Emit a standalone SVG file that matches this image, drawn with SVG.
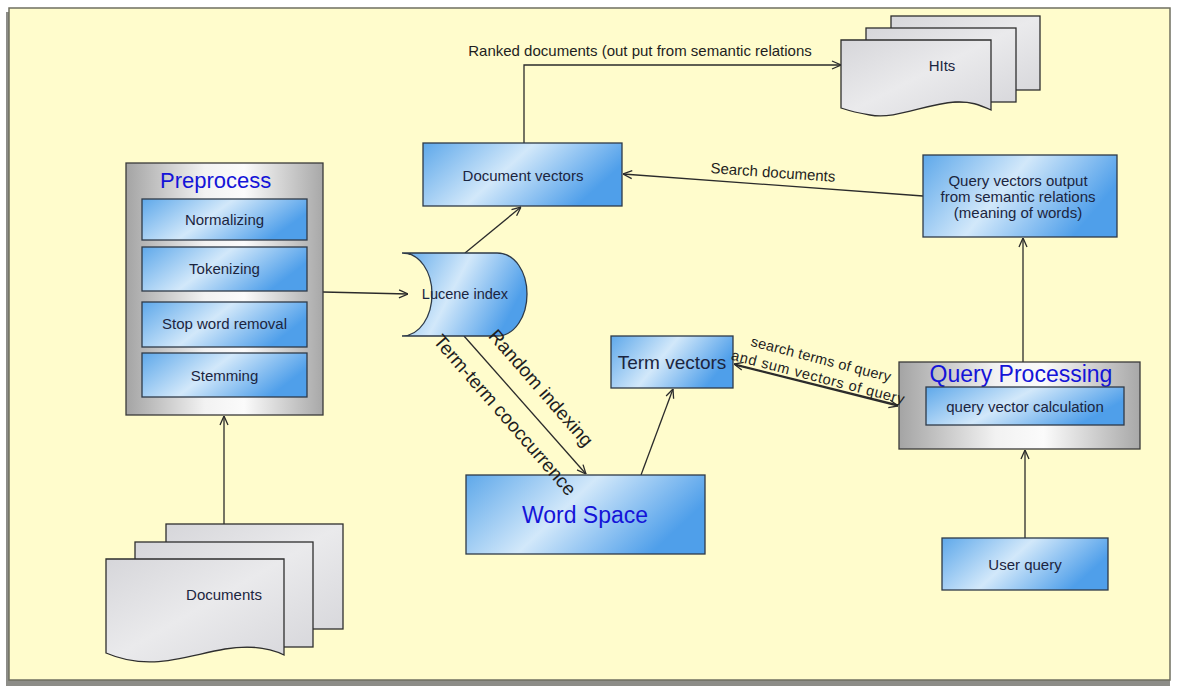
<svg xmlns="http://www.w3.org/2000/svg" width="1180" height="690" viewBox="0 0 1180 690">
<defs>
<linearGradient id="blue" x1="0" y1="0" x2="1" y2="0.35">
<stop offset="0" stop-color="#5ea8ea"/>
<stop offset="0.5" stop-color="#d2e8fa"/>
<stop offset="1" stop-color="#4f9fea"/>
</linearGradient>
<linearGradient id="gray" x1="0" y1="0" x2="1" y2="0">
<stop offset="0" stop-color="#a4a4a4"/>
<stop offset="0.4" stop-color="#f2f2f2"/>
<stop offset="0.6" stop-color="#fbfbfb"/>
<stop offset="1" stop-color="#a8a8a8"/>
</linearGradient>
<linearGradient id="sheet" x1="0" y1="0" x2="1" y2="1">
<stop offset="0" stop-color="#d6d6da"/>
<stop offset="0.5" stop-color="#eaeaec"/>
<stop offset="1" stop-color="#d8d8dc"/>
</linearGradient>
<marker id="arr" viewBox="0 0 10 10" refX="10" refY="5" markerWidth="10" markerHeight="10" markerUnits="userSpaceOnUse" orient="auto-start-reverse">
<path d="M1,1 L10,5 L1,9" fill="none" stroke="#2b2b2b" stroke-width="1.3"/>
</marker>
<style>
.frame{fill:#fffccc;stroke:#6f6f60;stroke-width:1.5}
.bluebox{fill:url(#blue);stroke:#2e3a48;stroke-width:1.3}
.graybox{fill:url(#gray);stroke:#3a3a3a;stroke-width:1.3}
.sheet{fill:url(#sheet);stroke:#2e2e2e;stroke-width:1.3}
.lbl{font-family:"Liberation Sans",Arial,sans-serif;font-size:15px;fill:#1b2540;text-anchor:middle;dominant-baseline:central}
.title{font-family:"Liberation Sans",Arial,sans-serif;font-size:23px;fill:#1414d8}
.edge{fill:none;stroke:#2b2b2b;stroke-width:1.3}
.elbl{font-family:"Liberation Sans",Arial,sans-serif;fill:#1e1e1e;text-anchor:middle;dominant-baseline:central}
</style>
</defs>

<g id="background">
<rect x="6" y="12" width="1164" height="674" fill="#8d8d88"/>
<rect class="frame" x="9" y="8" width="1161" height="672"/>
</g>

<g id="connectors">
<path class="edge" d="M224,524 V416" marker-end="url(#arr)"/>
<path class="edge" d="M323,292 L408,294" marker-end="url(#arr)"/>
<path class="edge" d="M465,253 L521,207" marker-end="url(#arr)"/>
<path class="edge" d="M524,143 V65 H841" marker-end="url(#arr)"/>
<path class="edge" d="M923,196 L623,174" marker-end="url(#arr)"/>
<path class="edge" d="M464,336 L586,474" marker-end="url(#arr)"/>
<path class="edge" d="M641,475 L673,389" marker-end="url(#arr)"/>
<path class="edge" d="M898,405 L734,364" marker-end="url(#arr)"/>
<path class="edge" d="M735,365 L898,406" marker-end="url(#arr)"/>
<path class="edge" d="M1023,362 V238" marker-end="url(#arr)"/>
<path class="edge" d="M1025,538 V450" marker-end="url(#arr)"/>
</g>

<g id="preprocess">
<rect class="graybox" x="126" y="163" width="197" height="252"/>
<text class="title" x="160" y="188" style="font-size:22px">Preprocess</text>
</g>
<g id="normalizing">
<rect class="bluebox" x="142" y="199" width="165" height="41"/>
<text class="lbl" x="224.5" y="219">Normalizing</text>
</g>
<g id="tokenizing">
<rect class="bluebox" x="142" y="247" width="165" height="44"/>
<text class="lbl" x="224.5" y="268">Tokenizing</text>
</g>
<g id="stopword">
<rect class="bluebox" x="142" y="302" width="165" height="45"/>
<text class="lbl" x="224.5" y="323">Stop word removal</text>
</g>
<g id="stemming">
<rect class="bluebox" x="142" y="353" width="165" height="44"/>
<text class="lbl" x="224.5" y="375">Stemming</text>
</g>

<g id="documents">
<rect class="sheet" x="166" y="524" width="177" height="105"/>
<rect class="sheet" x="135" y="542" width="178" height="105"/>
<path class="sheet" d="M106,559 H284 V655 C268,647 250,645 225,649 C185,656 150,672 106,653 Z"/>
<text class="lbl" x="224" y="594">Documents</text>
</g>

<g id="lucene">
<path class="bluebox" d="M402,253 H497 C515,253 527,272 527,294 C527,316 515,336 497,336 H402 C420,336 432,316 432,294 C432,272 420,253 402,253 Z"/>
<text class="lbl" x="465" y="294" style="font-size:14.5px">Lucene index</text>
</g>

<g id="docvectors">
<rect class="bluebox" x="423" y="143" width="199" height="63"/>
<text class="lbl" x="523" y="175">Document vectors</text>
</g>

<g id="hits">
<rect class="sheet" x="891" y="16" width="149" height="74"/>
<rect class="sheet" x="866" y="28" width="150" height="74"/>
<path class="sheet" d="M841,40 H991 V110 C980,105 970,101 955,102 C925,104 895,120 870,115 C858,113 850,111 841,108 Z"/>
<text class="lbl" x="942" y="65">HIts</text>
</g>

<g id="queryvectors">
<rect class="bluebox" x="923" y="155" width="194" height="82"/>
<text class="lbl" x="1018" y="180">Query vectors output</text>
<text class="lbl" x="1018" y="196">from semantic relations</text>
<text class="lbl" x="1018" y="212">(meaning of words)</text>
</g>

<g id="wordspace">
<rect class="bluebox" x="466" y="475" width="239" height="79"/>
<text class="title" x="585" y="515" text-anchor="middle" dominant-baseline="central">Word Space</text>
</g>

<g id="termvectors">
<rect class="bluebox" x="611" y="336" width="122" height="52"/>
<text class="lbl" x="672" y="362" style="font-size:19px">Term vectors</text>
</g>

<g id="queryprocessing">
<rect class="graybox" x="899" y="362" width="241" height="87"/>
<text class="title" x="1021" y="382" text-anchor="middle">Query Processing</text>
</g>
<g id="queryvectorcalc">
<rect class="bluebox" x="926" y="387" width="198" height="38"/>
<text class="lbl" x="1025" y="406">query vector calculation</text>
</g>

<g id="userquery">
<rect class="bluebox" x="942" y="538" width="166" height="52"/>
<text class="lbl" x="1025" y="564">User query</text>
</g>

<g id="connector-labels">
<text class="elbl" x="640" y="50" font-size="15">Ranked documents (out put from semantic relations</text>
<text class="elbl" x="773" y="172" font-size="15" transform="rotate(4 773 172)">Search documents</text>
<text class="elbl" x="541" y="388" font-size="19" transform="rotate(49 541 388)">Random indexing</text>
<text class="elbl" x="505" y="415" font-size="19" transform="rotate(49 505 415)">Term-term cooccurrence</text>
<text class="elbl" x="821" y="359" font-size="14.5" transform="rotate(14.5 821 359)" textLength="144" lengthAdjust="spacing">search terms of query</text>
<text class="elbl" x="818" y="377" font-size="14.5" transform="rotate(14.5 818 377)" textLength="178" lengthAdjust="spacing">and sum vectors of query</text>
</g>
</svg>
